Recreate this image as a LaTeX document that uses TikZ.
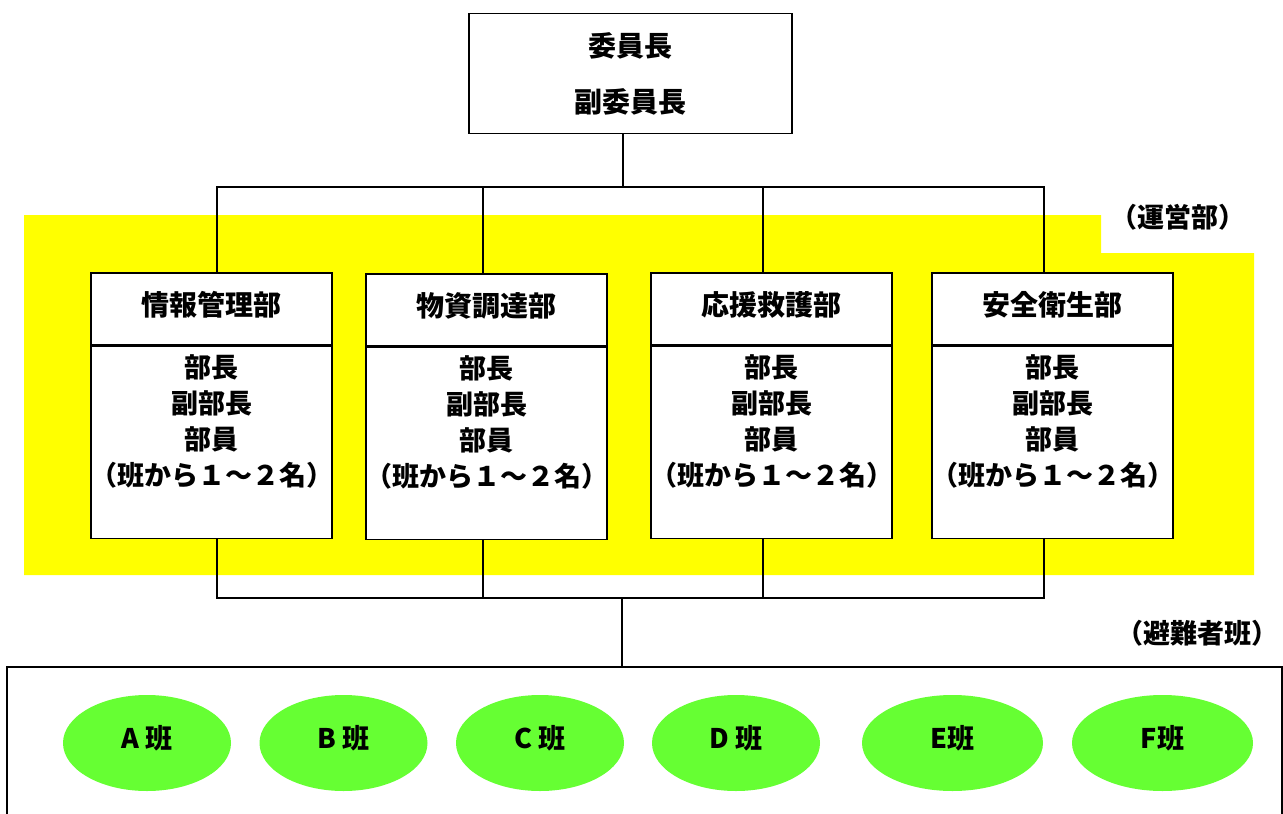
\documentclass[tikz,border=0pt]{standalone}
\usepackage{fontspec}
\newfontfamily\jpfont{Noto Sans CJK JP}
\usepackage{tikz}
\usetikzlibrary{shapes.geometric, positioning, calc}
\definecolor{opsYellow}{RGB}{255, 255, 0}
\definecolor{groupGreen}{RGB}{102, 255, 51}
\tikzstyle{line} = [line width=1.5pt]
\tikzstyle{basic} = [rectangle, draw=black, line width=1.5pt, fill=white, text=black, inner sep=0pt]
\tikzstyle{head} = [basic, minimum width=241pt, minimum height=72pt, text height=24pt, text depth=12pt, font=\jpfont\bfseries\fontsize{28}{34}\selectfont]
\tikzstyle{body} = [basic, minimum width=241pt, minimum height=192pt]
\tikzstyle{bodytext} = [align=center, text=black, inner sep=0pt, font=\jpfont\bfseries\fontsize{27}{36}\selectfont]
\tikzstyle{group} = [ellipse, fill=groupGreen, minimum height=96pt, inner sep=0pt, text=black, text height=23pt, text depth=13pt, font=\jpfont\bfseries\fontsize{27}{32}\selectfont]
\tikzstyle{note} = [text=black, inner sep=0pt, font=\jpfont\bfseries\fontsize{27}{32}\selectfont]

\begin{document}
\begin{tikzpicture}[x=1pt, y=-1pt, node distance=0pt]
\clip (0,0) rectangle (1283,814);

% yellow area of the operations section
\fill [opsYellow] (24,215) -- (1101,215) -- (1101,253) -- (1254,253) -- (1254,575) -- (24,575) -- cycle;

\node (chair) [basic, minimum width=323pt, minimum height=120pt, align=center, font=\jpfont\bfseries\fontsize{28}{56}\selectfont] at (630.5,73.5) {委員長\\副委員長};

\node (info) [head] at (211.5,309) {情報管理部};
\node (infobody) [body, below=of info] {};
\node (infotext) [bodytext] at ($(infobody.north)+(0,76)$) {部長\\副部長\\部員\\（班から１～２名）};

\node (supply) [head] at (486.5,310) {物資調達部};
\node (supplybody) [body, below=of supply] {};
\node (supplytext) [bodytext] at ($(supplybody.north)+(0,76)$) {部長\\副部長\\部員\\（班から１～２名）};

\node (rescue) [head] at (771.5,309) {応援救護部};
\node (rescuebody) [body, below=of rescue] {};
\node (rescuetext) [bodytext] at ($(rescuebody.north)+(0,76)$) {部長\\副部長\\部員\\（班から１～２名）};

\node (safety) [head] at (1052.5,309) {安全衛生部};
\node (safetybody) [body, below=of safety] {};
\node (safetytext) [bodytext] at ($(safetybody.north)+(0,76)$) {部長\\副部長\\部員\\（班から１～２名）};

\node (opslabel) [note] at (1178,217) {（運営部）};
\node (shelterlabel) [note] at (1197,633) {（避難者班）};

\node (shelter) [basic, minimum width=1275pt, minimum height=200pt, anchor=north] at (644.5,666) {};

\node (groupA) [group, minimum width=168pt] at (147,743) {A 班};
\node (groupB) [group, minimum width=168pt] at (343.5,743) {B 班};
\node (groupC) [group, minimum width=168pt] at (540,743) {C 班};
\node (groupD) [group, minimum width=168pt] at (736,743) {D 班};
\node (groupE) [group, minimum width=181pt] at (952.5,743) {E班};
\node (groupF) [group, minimum width=181pt] at (1162.5,743) {F班};

\coordinate (topbus) at (623,187);
\coordinate (lowbus) at (622,598);

\draw [line] ($(chair.south)+(-7.5,0)$) -- (topbus);
\draw [line] ($(info.north)+(5.5,0)$) |- (topbus);
\draw [line] ($(supply.north)+(-3.5,0)$) |- (topbus);
\draw [line] ($(rescue.north)+(-8.5,0)$) |- (topbus);
\draw [line] ($(safety.north)+(-8.5,0)$) |- (topbus);

\draw [line] ($(infobody.south)+(5.5,0)$) |- (lowbus);
\draw [line] ($(supplybody.south)+(-3.5,0)$) |- (lowbus);
\draw [line] ($(rescuebody.south)+(-8.5,0)$) |- (lowbus);
\draw [line] ($(safetybody.south)+(-8.5,0)$) |- (lowbus);
\draw [line] (lowbus) -- (lowbus |- shelter.north);

\end{tikzpicture}
\end{document}
